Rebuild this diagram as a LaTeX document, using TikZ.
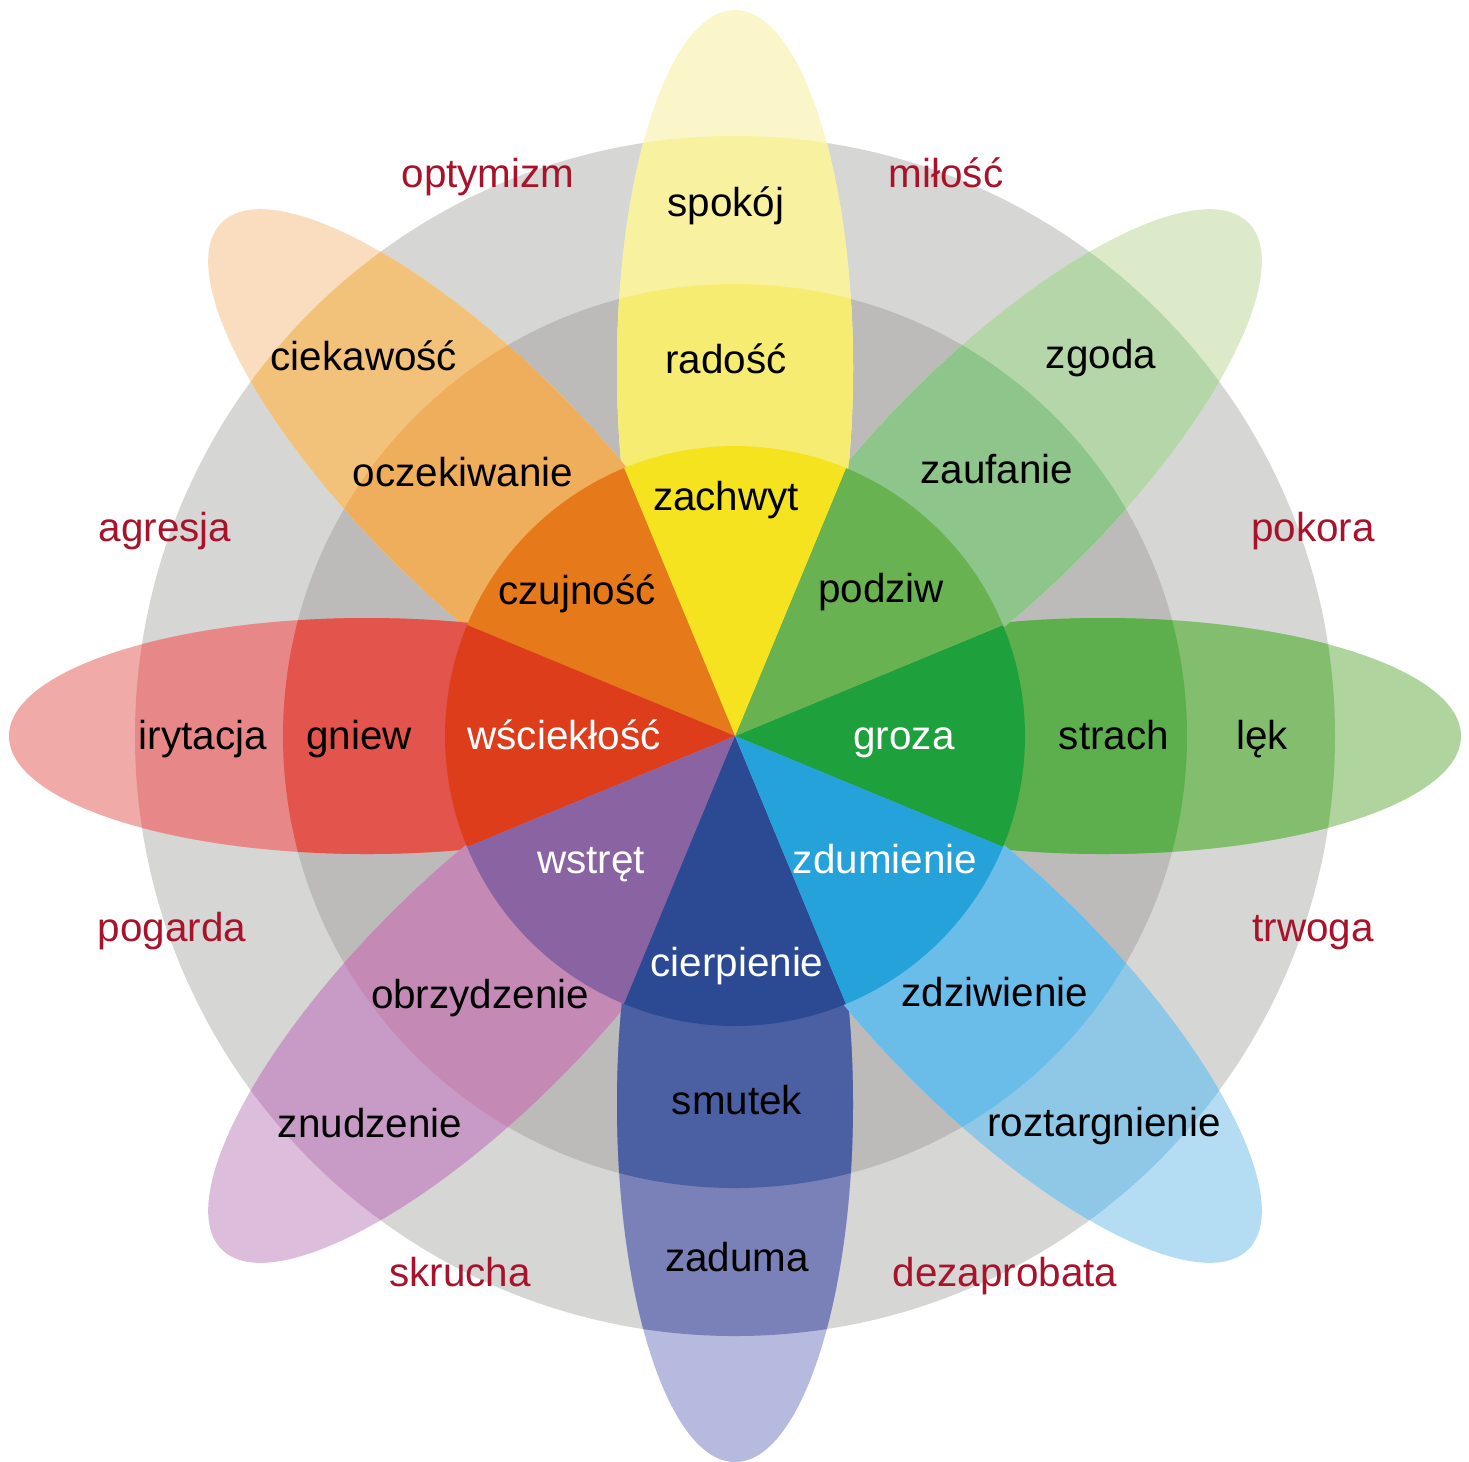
\documentclass[tikz,border=0pt]{standalone}
\usepackage{fontspec}
\setmainfont{Liberation Sans}
\usepackage{xcolor}
% rings
\definecolor{clRingOut}{HTML}{D6D6D4}
\definecolor{clRingIn}{HTML}{BCBBB9}
\definecolor{clDyad}{HTML}{A8122A}
% one family per petal: core / mid / out / tip
\definecolor{clJoyCore}{HTML}{F4E31E}
\definecolor{clJoyMid}{HTML}{F7EC72}
\definecolor{clJoyOut}{HTML}{F8F19F}
\definecolor{clJoyTip}{HTML}{FAF6C9}
\definecolor{clTrustCore}{HTML}{69B252}
\definecolor{clTrustMid}{HTML}{8EC58A}
\definecolor{clTrustOut}{HTML}{B5D6A8}
\definecolor{clTrustTip}{HTML}{DCEAC9}
\definecolor{clFearCore}{HTML}{1EA03C}
\definecolor{clFearMid}{HTML}{5DAF4E}
\definecolor{clFearOut}{HTML}{82BE6D}
\definecolor{clFearTip}{HTML}{B0D49E}
\definecolor{clSurpCore}{HTML}{26A2DB}
\definecolor{clSurpMid}{HTML}{6ABDE8}
\definecolor{clSurpOut}{HTML}{8FC7E7}
\definecolor{clSurpTip}{HTML}{B4DDF3}
\definecolor{clSadCore}{HTML}{2C4A93}
\definecolor{clSadMid}{HTML}{4B60A2}
\definecolor{clSadOut}{HTML}{7A80B8}
\definecolor{clSadTip}{HTML}{B6BADF}
\definecolor{clDisgCore}{HTML}{8A64A2}
\definecolor{clDisgMid}{HTML}{C489B5}
\definecolor{clDisgOut}{HTML}{C79BC5}
\definecolor{clDisgTip}{HTML}{DCBDDC}
\definecolor{clAngerCore}{HTML}{DE3D1C}
\definecolor{clAngerMid}{HTML}{E2544C}
\definecolor{clAngerOut}{HTML}{E88787}
\definecolor{clAngerTip}{HTML}{F0AAA8}
\definecolor{clAnticCore}{HTML}{E67A1B}
\definecolor{clAnticMid}{HTML}{EFAE5C}
\definecolor{clAnticOut}{HTML}{F3C27A}
\definecolor{clAnticTip}{HTML}{FADDBF}
\usepackage{tikz}
\tikzset{
  emotion/.style={font=\fontsize{11.5}{14}\selectfont, inner sep=0pt,
                  text height=1.6ex, text depth=.45ex, yshift=-0.3mm, text=black},
  basic/.style={emotion, text=white},
  dyad/.style={emotion, text=clDyad},
  petal/.style={rotate=#1},
}

\begin{document}
\begin{tikzpicture}[x=0.1mm, y=0.1mm]
  \useasboundingbox (-735,-725) rectangle (734,736);

  % gray rings
  \fill[clRingOut] (0,0) circle[radius=600];
  \fill[clRingIn] (0,0) circle[radius=452];

  % petals, lightest part first
  \foreach \ang/\cl in {0/Fear, 45/Trust, 90/Joy, 135/Antic, 180/Anger, 225/Disg, 270/Sad, 315/Surp}
    \fill[petal=\ang, cl\cl Tip] (368,0) ellipse[x radius=358, y radius=118];
  \begin{scope}
    \clip (0,0) circle[radius=600];
    \foreach \ang/\cl in {0/Fear, 45/Trust, 90/Joy, 135/Antic, 180/Anger, 225/Disg, 270/Sad, 315/Surp}
      \fill[petal=\ang, cl\cl Out] (368,0) ellipse[x radius=358, y radius=118];
  \end{scope}
  \begin{scope}
    \clip (0,0) circle[radius=452];
    \foreach \ang/\cl in {0/Fear, 45/Trust, 90/Joy, 135/Antic, 180/Anger, 225/Disg, 270/Sad, 315/Surp}
      \fill[petal=\ang, cl\cl Mid] (368,0) ellipse[x radius=358, y radius=118];
  \end{scope}

  % inner wheel
  \foreach \ang/\cl in {0/Fear, 45/Trust, 90/Joy, 135/Antic, 180/Anger, 225/Disg, 270/Sad, 315/Surp}
    \fill[cl\cl Core] (0,0) -- (\ang-22.5:290)
      arc[start angle=\ang-22.5, end angle=\ang+22.5, radius=290] -- cycle;

  % basic emotions
  \node[emotion] (zachwyt) at (-9,239) {zachwyt};
  \node[emotion] (podziw) at (146,147) {podziw};
  \node[basic] (groza) at (169,0) {groza};
  \node[basic] (zdumienie) at (150,-124) {zdumienie};
  \node[basic] (cierpienie) at (2,-227) {cierpienie};
  \node[basic] (wstret) at (-144,-124) {wstręt};
  \node[basic] (wscieklosc) at (-171,0) {wściekłość};
  \node[emotion] (czujnosc) at (-158,145) {czujność};

  % middle ring
  \node[emotion] (radosc) at (-9,376) {radość};
  \node[emotion] (zaufanie) at (262,266) {zaufanie};
  \node[emotion] (strach) at (379,0) {strach};
  \node[emotion] (zdziwienie) at (260,-257) {zdziwienie};
  \node[emotion] (smutek) at (2,-365) {smutek};
  \node[emotion] (obrzydzenie) at (-255,-259) {obrzydzenie};
  \node[emotion] (gniew) at (-376,0) {gniew};
  \node[emotion] (oczekiwanie) at (-272,263) {oczekiwanie};

  % outer ring
  \node[emotion] (spokoj) at (-9,533) {spokój};
  \node[emotion] (zgoda) at (366,381) {zgoda};
  \node[emotion] (lek) at (527,0) {lęk};
  \node[emotion] (roztargnienie) at (369,-387) {roztargnienie};
  \node[emotion] (zaduma) at (2,-522) {zaduma};
  \node[emotion] (znudzenie) at (-365,-388) {znudzenie};
  \node[emotion] (irytacja) at (-532,0) {irytacja};
  \node[emotion] (ciekawosc) at (-371,379) {ciekawość};

  % dyads between the petals
  \node[dyad] (milosc) at (211,562) {miłość};
  \node[dyad] (pokora) at (578,208) {pokora};
  \node[dyad] (trwoga) at (578,-192) {trwoga};
  \node[dyad] (dezaprobata) at (270,-537) {dezaprobata};
  \node[dyad] (skrucha) at (-275,-537) {skrucha};
  \node[dyad] (pogarda) at (-563,-192) {pogarda};
  \node[dyad] (agresja) at (-570,208) {agresja};
  \node[dyad] (optymizm) at (-247,562) {optymizm};
\end{tikzpicture}
\end{document}
